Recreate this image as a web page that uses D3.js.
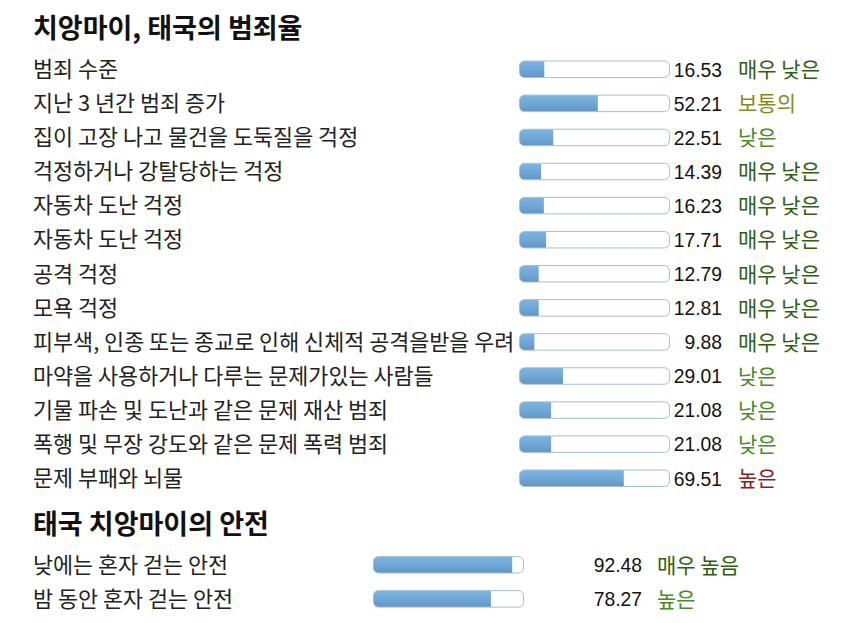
<!DOCTYPE html>
<html><head><meta charset="utf-8">
<script src="https://cdn.jsdelivr.net/npm/d3@7"></script>
<style>
body{margin:0;background:#fff;}
svg text{font-family:"Liberation Sans","Noto Sans CJK KR",Arial,sans-serif;}
svg text.kr{font-family:"Noto Sans CJK KR","Liberation Sans",sans-serif;}
</style></head>
<body><svg id="c" width="857" height="623"></svg>
<script>
const crimeTitle = "치앙마이, 태국의 범죄율";
const crimeLabels = ["범죄 수준","지난 3 년간 범죄 증가","집이 고장 나고 물건을 도둑질을 걱정","걱정하거나 강탈당하는 걱정","자동차 도난 걱정","자동차 도난 걱정","공격 걱정","모욕 걱정","피부색, 인종 또는 종교로 인해 신체적 공격을받을 우려","마약을 사용하거나 다루는 문제가있는 사람들","기물 파손 및 도난과 같은 문제 재산 범죄","폭행 및 무장 강도와 같은 문제 폭력 범죄","문제 부패와 뇌물"];
const crimeValues = [16.53,52.21,22.51,14.39,16.23,17.71,12.79,12.81,9.88,29.01,21.08,21.08,69.51];
const crimeRatings = ["매우 낮은","보통의","낮은","매우 낮은","매우 낮은","매우 낮은","매우 낮은","매우 낮은","매우 낮은","낮은","낮은","낮은","높은"];
const safetyTitle = "태국 치앙마이의 안전";
const safetyLabels = ["낮에는 혼자 걷는 안전","밤 동안 혼자 걷는 안전"];
const safetyValues = [92.48,78.27];
const safetyRatings = ["매우 높음","높은"];

const crimeColor = d3.scaleOrdinal().domain(["매우 낮은","낮은","보통의","높은"]).range(["#2e5f10","#4a8a28","#8a8a1c","#8b1c1c"]);
const safetyColor = d3.scaleOrdinal().domain(["매우 높음","높은"]).range(["#2e5f10","#4a8a28"]);

const svg = d3.select("#c");
const defs = svg.append("defs");
const grad = defs.append("linearGradient").attr("id","bg").attr("x1",0).attr("y1",0).attr("x2",0).attr("y2",1);
grad.append("stop").attr("offset","0%").attr("stop-color","#7fb3df");
grad.append("stop").attr("offset","55%").attr("stop-color","#6ea6d6");
grad.append("stop").attr("offset","100%").attr("stop-color","#5f96c6");

function section(g, title, titleY, labels, values, ratings, color, y0, barX, valRight, ratX, id){
  g.append("text").attr("class","kr").attr("x",33).attr("y",titleY).attr("font-size",27).attr("font-weight","bold").attr("fill","#111").text(title);
  const y = d3.scaleBand().domain(d3.range(labels.length)).range([y0, y0 + labels.length*34.08]).paddingInner(0);
  const x = d3.scaleLinear().domain([0,100]).range([0,150]);
  const rows = g.selectAll("g.row"+id).data(labels).join("g").attr("class","row"+id)
    .attr("transform",(d,i)=>`translate(0,${y(i)+y.bandwidth()/2})`);
  rows.append("text").attr("class","kr").attr("x",33).attr("y",7.5).attr("font-size",21.8).attr("fill","#222").text(d=>d);
  rows.each(function(d,i){
    const r = d3.select(this);
    const cid = `clip${id}_${i}`;
    defs.append("clipPath").attr("id",cid).append("rect").attr("x",barX).attr("y",-8.5).attr("width",x(100)).attr("height",16.5).attr("rx",5);
    r.append("rect").attr("x",barX).attr("y",-8.5).attr("width",x(100)).attr("height",16.5).attr("rx",5).attr("fill","#fff");
    r.append("rect").attr("x",barX).attr("y",-8.5).attr("width",x(values[i])).attr("height",16.5).attr("fill","url(#bg)").attr("clip-path",`url(#${cid})`);
    r.append("rect").attr("x",barX).attr("y",-8.5).attr("width",x(100)).attr("height",16.5).attr("rx",5).attr("fill","none").attr("stroke","#a3bfd4").attr("stroke-width",1);
    r.append("text").attr("x",valRight).attr("y",7).attr("text-anchor","end").attr("font-size",19.3).attr("fill","#111").text(values[i].toFixed(2));
    r.append("text").attr("class","kr").attr("x",ratX).attr("y",7.5).attr("font-size",21).attr("fill",color(ratings[i])).text(ratings[i]);
  });
}
section(svg.append("g"), crimeTitle, 38, crimeLabels, crimeValues, crimeRatings, crimeColor, 52.5, 519.5, 722, 738, "a");
section(svg.append("g"), safetyTitle, 534, safetyLabels, safetyValues, safetyRatings, safetyColor, 548, 373.5, 642, 657, "b");
</script></body></html>
